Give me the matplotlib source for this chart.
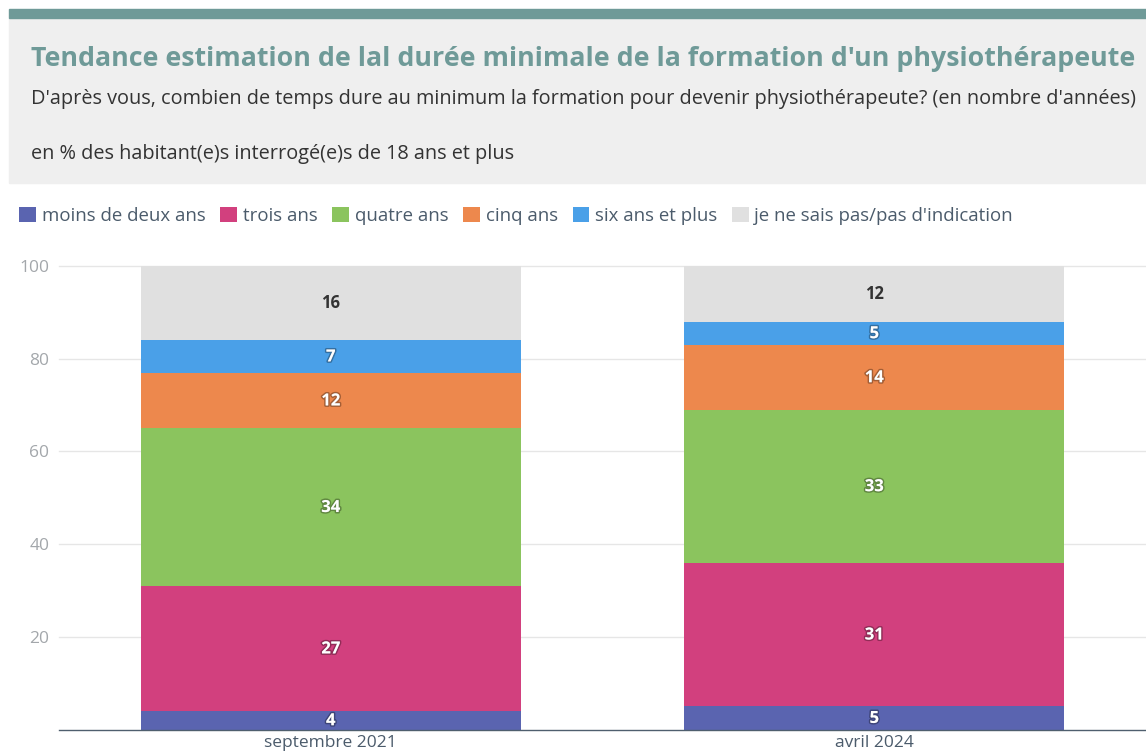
import matplotlib.pyplot as plt
import matplotlib.patheffects as pe
from matplotlib.patches import Rectangle, Patch
import numpy as np

plt.rcParams['font.family'] = ['Open Sans', 'DejaVu Sans']

periods = ['septembre 2021', 'avril 2024']
categories = ['moins de deux ans', 'trois ans', 'quatre ans', 'cinq ans',
              'six ans et plus', "je ne sais pas/pas d'indication"]
moins_deux = [4, 5]
trois = [27, 31]
quatre = [34, 33]
cinq = [12, 14]
six_plus = [7, 5]
ne_sait_pas = [16, 12]
series = [moins_deux, trois, quatre, cinq, six_plus, ne_sait_pas]
colors = ['#5a64b0', '#d2407e', '#8bc45e', '#ed884d', '#4aa0e8', '#e0e0e0']

W, H = 1146, 756
fig = plt.figure(figsize=(W / 100, H / 100), dpi=100)


def fx(px):
    return px / W


def fy(py):
    return 1 - py / H


# header block
fig.patches.append(Rectangle((fx(9), fy(183)), 1 - fx(9), fy(18) - fy(183),
                             transform=fig.transFigure, color='#efefef', zorder=0))
fig.patches.append(Rectangle((fx(9), fy(18)), 1 - fx(9), fy(9) - fy(18),
                             transform=fig.transFigure, color='#6f9a98', zorder=1))

fig.text(fx(31), fy(59), "Tendance estimation de lal durée minimale de la formation d'un physiothérapeute",
         fontsize=19.3, fontweight='bold', color='#6f9a98', va='center')
fig.text(fx(31), fy(99), "D'après vous, combien de temps dure au minimum la formation pour devenir physiothérapeute? (en nombre d'années)",
         fontsize=14.3, color='#333333', va='center')
fig.text(fx(31), fy(154), "en % des habitant(e)s interrogé(e)s de 18 ans et plus",
         fontsize=14.3, color='#333333', va='center')

handles = [Patch(facecolor=c, edgecolor='none', label=l) for c, l in zip(colors, categories)]
fig.legend(handles=handles, ncol=6, loc='center left', bbox_to_anchor=(fx(12), fy(216)),
           frameon=False, handlelength=0.9, handleheight=0.9, handletextpad=0.3,
           columnspacing=0.8, fontsize=13.4, labelcolor='#4b5b6b', borderaxespad=0)

ax = fig.add_axes([fx(59), fy(729.5), 1 - fx(59), fy(266) - fy(729.5)])
x = np.arange(len(periods))
bottom = np.zeros(len(periods))
for vals, c in zip(series, colors):
    ax.bar(x, vals, bottom=bottom, width=0.7, color=c, zorder=2)
    for xi, v, b in zip(x, vals, bottom):
        if c == '#e0e0e0':
            ax.text(xi, b + v / 2, str(v), ha='center', va='center', fontsize=12,
                    fontweight='bold', color='#333333', zorder=3)
        else:
            ax.text(xi, b + v / 2, str(v), ha='center', va='center', fontsize=12,
                    fontweight='bold', color='white', zorder=3,
                    path_effects=[pe.withStroke(linewidth=2.2, foreground=(0, 0, 0, 0.3))])
    bottom += np.array(vals)

ax.set_xlim(-0.5, 1.5)
ax.set_ylim(0, 100)
ax.set_yticks([20, 40, 60, 80, 100])
ax.yaxis.grid(True, color='#e6e6e6', linewidth=1, zorder=0)
for line in ax.get_ygridlines():
    line.set_clip_on(False)
ax.set_xticks(x)
ax.set_xticklabels(periods)
ax.tick_params(axis='y', length=0, labelsize=12.5, labelcolor='#a3a7ab', pad=7)
ax.tick_params(axis='x', length=0, labelsize=12.5, labelcolor='#4b5b6b', pad=4)
for s in ['top', 'right', 'left']:
    ax.spines[s].set_visible(False)
ax.spines['bottom'].set_color('#4f5f6e')
ax.spines['bottom'].set_linewidth(1)

fig.savefig('out.png', dpi=100)
